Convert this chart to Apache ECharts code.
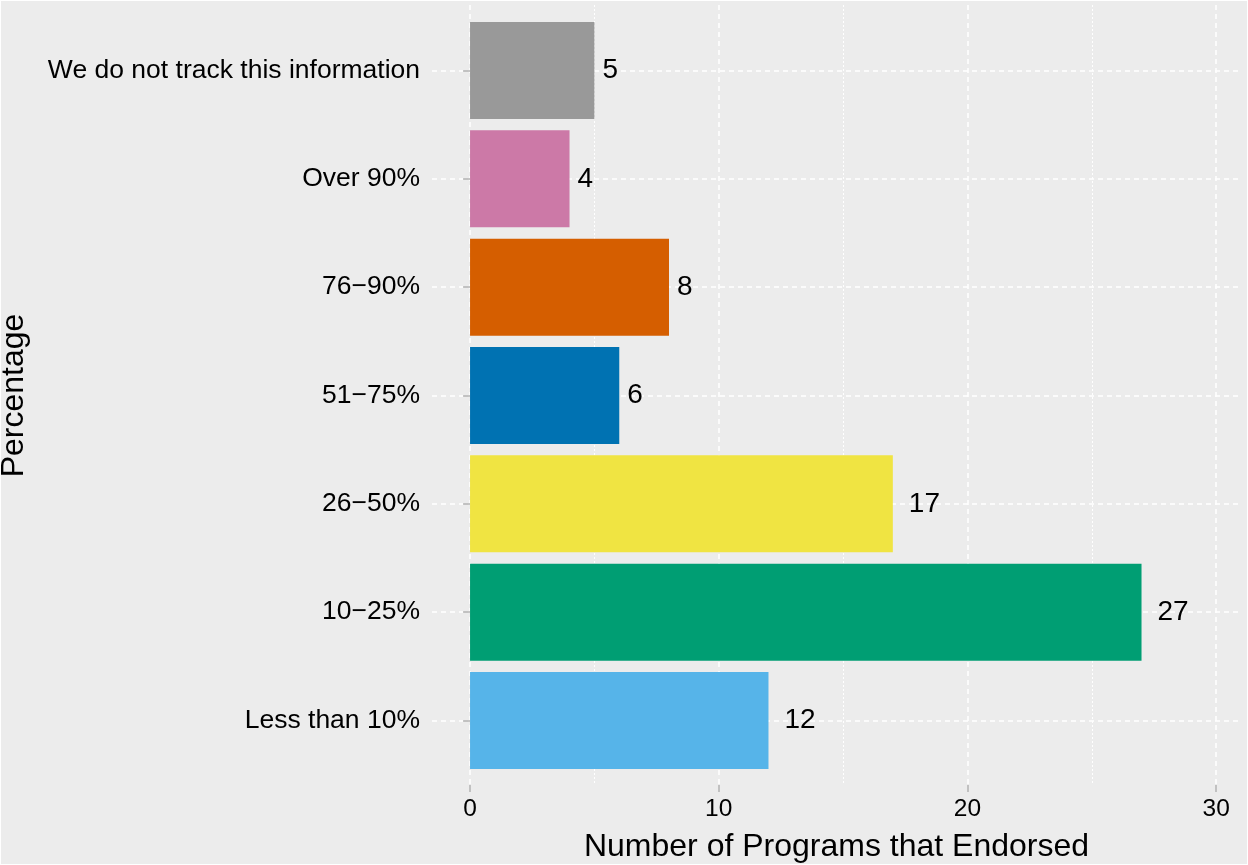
<!DOCTYPE html>
<html lang="en">
<head>
    <meta charset="UTF-8">
    <title>Programs that Endorsed</title>
    <script src="https://cdn.jsdelivr.net/npm/echarts@6/dist/echarts.min.js"></script>
    <style>
        * { margin: 0; padding: 0; }
        html, body { width: 100%; height: 100%; background: #ffffff; }
        #main {
            width: 1248px; height: 865px;
            box-sizing: border-box;
            border: 1px solid #ffffff;
            background: #ececec;
        }
    </style>
</head>
<body>
<div id="main"></div>
<script>
    // data (bottom to top, ECharts category order)
    var categories = ['Less than 10%', '10\u221225%', '26\u221250%', '51\u221275%', '76\u221290%', 'Over 90%', 'We do not track this information'];
    var counts = [12, 27, 17, 6, 8, 4, 5];
    var barColors = ['#56B4E9', '#009E73', '#F0E442', '#0072B2', '#D55E00', '#CC79A7', '#999999'];
    var majorTicks = [0, 10, 20, 30];
    var minorTicks = [5, 15, 25];

    var font = "'Liberation Sans', Arial, Helvetica, sans-serif";
    var xMin = -1.53, xMax = 31.0;

    var chart = echarts.init(document.getElementById('main'));

    var barData = counts.map(function (v, i) {
        return {
            value: v,
            itemStyle: { color: barColors[i] },
            label: { distance: String(v).length * 8 }
        };
    });

    var option = {
        backgroundColor: '#ececec',
        animation: false,
        grid: [
            // panel for the vertical grid lines and x axis
            { left: 431, right: 6, top: 4, bottom: 79, containLabel: false, outerBoundsMode: 'none' },
            // bars, categories sit on the edges (centre of first/last bar)
            { left: 431, right: 6, top: 69.5, bottom: 143.5, containLabel: false, outerBoundsMode: 'none' }
        ],
        xAxis: [
            {
                gridIndex: 0, type: 'value', min: xMin, max: xMax,
                name: 'Number of Programs that Endorsed',
                nameLocation: 'middle', nameGap: 46,
                nameTextStyle: { fontFamily: font, fontSize: 32, color: '#000' },
                axisLine: { show: false },
                axisTick: { show: true, customValues: majorTicks, length: 7, lineStyle: { color: '#b3b3b3', width: 1.5 } },
                axisLabel: { customValues: majorTicks, fontFamily: font, fontSize: 24.5, color: '#000', margin: 12 },
                splitLine: { show: true, lineStyle: { color: '#ffffff', width: 1.5, type: [5, 4] } }
            },
            {
                gridIndex: 0, type: 'value', min: xMin, max: xMax,
                axisLine: { show: false },
                axisTick: { show: false, customValues: minorTicks },
                axisLabel: { show: false, customValues: minorTicks },
                splitLine: { show: true, lineStyle: { color: '#ffffff', width: 1, type: [2, 2] } }
            },
            {
                gridIndex: 1, type: 'value', min: xMin, max: xMax, show: false,
                splitLine: { show: false }
            }
        ],
        yAxis: [
            {
                gridIndex: 0, type: 'value', show: false, splitLine: { show: false }
            },
            {
                gridIndex: 1, type: 'category', data: categories, boundaryGap: false,
                name: 'Percentage', nameLocation: 'middle', nameGap: 402, nameRotate: 90,
                nameTextStyle: { fontFamily: font, fontSize: 32, color: '#000' },
                axisLine: { show: false },
                axisTick: { show: true, interval: 0, length: 7, lineStyle: { color: '#b3b3b3', width: 1.5 } },
                axisLabel: { interval: 0, fontFamily: font, fontSize: 26.5, color: '#000', margin: 12 },
                splitLine: { show: true, interval: 0, lineStyle: { color: '#ffffff', width: 1.5, type: [5, 4] } }
            }
        ],
        series: [{
            type: 'bar',
            xAxisIndex: 2,
            yAxisIndex: 1,
            data: barData,
            barWidth: 97,
            clip: false,
            label: {
                show: true,
                position: 'right',
                fontFamily: font,
                fontSize: 28,
                color: '#000'
            }
        }]
    };

    chart.setOption(option);
</script>
</body>
</html>
